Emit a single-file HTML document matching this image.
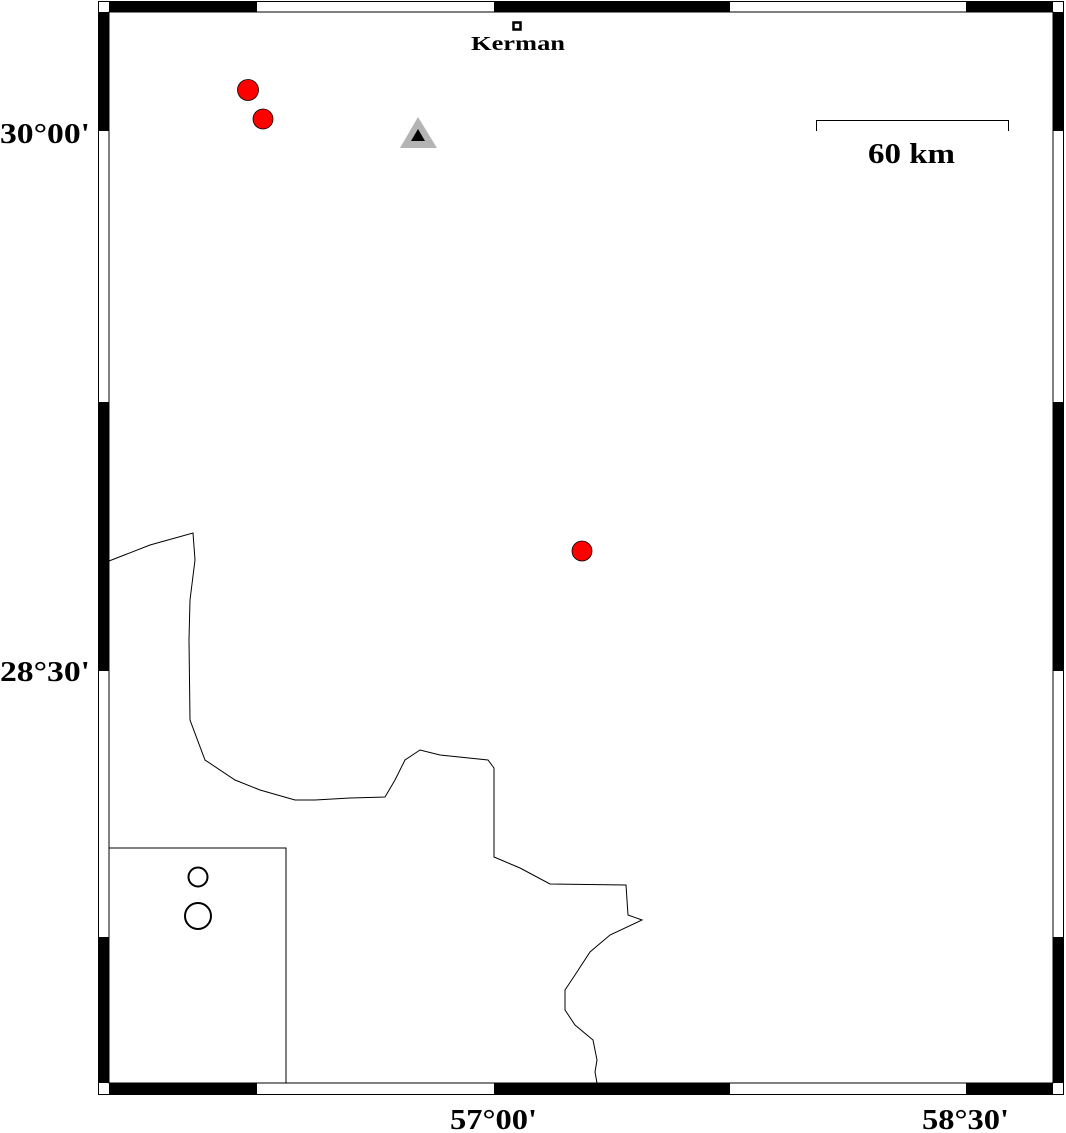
<!DOCTYPE html>
<html><head><meta charset="utf-8"><style>body{margin:0;background:#fff}svg{display:block}</style></head><body>
<svg width="1066" height="1133" xmlns="http://www.w3.org/2000/svg">
<rect x="0" y="0" width="1066" height="1133" fill="#fff"/>
<rect x="98.5" y="1.5" width="965" height="1093" fill="#fff" stroke="#000" stroke-width="1"/>
<rect x="109" y="12" width="944" height="1071" fill="#fff" stroke="#000" stroke-width="1"/>
<g fill="#000">
<rect x="109" y="1" width="148" height="11"/><rect x="494" y="1" width="236" height="11"/><rect x="966" y="1" width="87" height="11"/>
<rect x="109" y="1083" width="148" height="12"/><rect x="494" y="1083" width="236" height="12"/><rect x="966" y="1083" width="87" height="12"/>
<rect x="98" y="12" width="11" height="119"/><rect x="98" y="402" width="11" height="269"/><rect x="98" y="937" width="11" height="146"/>
<rect x="1053" y="12" width="11" height="119"/><rect x="1053" y="402" width="11" height="269"/><rect x="1053" y="937" width="11" height="146"/>
</g>
<path d="M109,561 L150,545 L193,533 L195,560 L190,600 L189,640 L190,720 L205,760 L235,780 L260,790 L295,800 L315,800 L350,798 L385,797 L395,780 L405,760 L420,750 L440,755 L488,760 L494,768 L494,857 L520,868 L550,884 L626,885 L628,915 L642,920 L610,935 L590,952 L575,975 L565,990 L565,1010 L575,1025 L593,1040 L597,1060 L595,1072 L597,1083" fill="none" stroke="#000" stroke-width="1"/>
<rect x="109" y="848" width="177" height="235" fill="#fff" stroke="#000" stroke-width="1"/>
<circle cx="198" cy="877" r="9.5" fill="none" stroke="#000" stroke-width="2"/>
<circle cx="198" cy="916" r="13" fill="none" stroke="#000" stroke-width="2"/>
<circle cx="248" cy="90" r="10.5" fill="#f00" stroke="#000" stroke-width="0.8"/>
<circle cx="263" cy="119" r="10" fill="#f00" stroke="#000" stroke-width="0.8"/>
<circle cx="582" cy="551" r="10" fill="#f00" stroke="#000" stroke-width="0.8"/>
<polygon points="418,117 400,148 437,148" fill="#b4b4b4"/>
<polygon points="418,129 411,141 425,141" fill="#000"/>
<rect x="513.5" y="22.5" width="7" height="7" fill="#fff" stroke="#000" stroke-width="2.5"/>
<text x="471" y="50" font-family="Liberation Serif, serif" font-weight="bold" font-size="20" textLength="94" lengthAdjust="spacingAndGlyphs">Kerman</text>
<path d="M816.5,131 V120.5 H1008.5 V131" fill="none" stroke="#000" stroke-width="1"/>
<text x="868" y="163" font-family="Liberation Serif, serif" font-weight="bold" font-size="28" textLength="87" lengthAdjust="spacingAndGlyphs">60 km</text>
<g font-family="Liberation Serif, serif" font-weight="bold" font-size="29">
<text x="0" y="143" textLength="90" lengthAdjust="spacingAndGlyphs">30°00'</text>
<text x="0" y="681" textLength="90" lengthAdjust="spacingAndGlyphs">28°30'</text>
<text x="450" y="1129" textLength="87" lengthAdjust="spacingAndGlyphs">57°00'</text>
<text x="922" y="1129" textLength="87" lengthAdjust="spacingAndGlyphs">58°30'</text>
</g>
</svg>
</body></html>
